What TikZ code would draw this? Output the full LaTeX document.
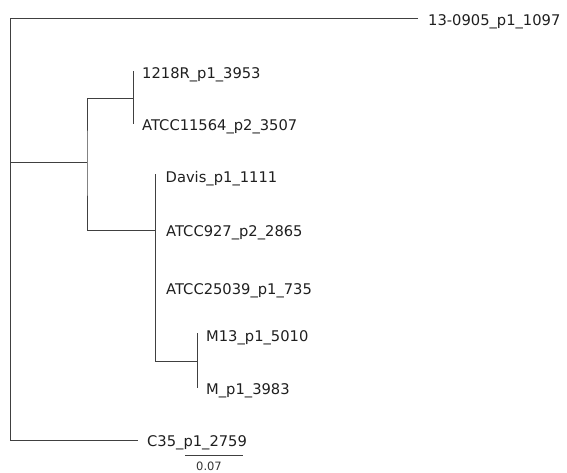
\documentclass[tikz,border=0pt]{standalone}
\usepackage{fontspec}
\setmainfont{DejaVu Sans}
\begin{document}
\begin{tikzpicture}[x=1pt,y=-1pt,
  branch/.style={draw=black!75, line width=1pt},
  leaf/.style={anchor=base west, inner sep=0pt, text=black!88,
    font=\fontsize{14.7}{16}\selectfont},
  scalelabel/.style={anchor=base, inner sep=0pt, text=black!80,
    font=\fontsize{11.5}{13}\selectfont}]
\useasboundingbox (0,0) rectangle (567,472);

% internal nodes
\coordinate (root) at (10.7,162);
\coordinate (nA) at (87,162);
\coordinate (nB) at (133,98);
\coordinate (nC) at (155,230);
\coordinate (nD) at (197,361);

% leaf tips
\coordinate (t13)    at (418,18);
\coordinate (t1218)  at (133,71);
\coordinate (t11564) at (133,124);
\coordinate (tDavis) at (155,174);
\coordinate (t927)   at (155,230);
\coordinate (t25039) at (155,286);
\coordinate (tM13)   at (197,333);
\coordinate (tM)     at (197,388);
\coordinate (tC35)   at (138,440);

% branches
\draw[branch] (t13) -| (root) |- (tC35);
\draw[branch] (root) -- (nA);
\draw[branch] (nB) -| (nA) |- (nC);
\draw[branch] (t1218) -- (t11564);
\draw[branch] (tDavis) |- (nD);
\draw[branch] (tM13) -- (tM);

% leaf labels
\node[leaf] (l13)    at (428,25)    {13-0905\_p1\_1097};
\node[leaf] (l1218)  at (142,78)    {1218R\_p1\_3953};
\node[leaf] (l11564) at (142,130)   {ATCC11564\_p2\_3507};
\node[leaf] (lDavis) at (165.5,182) {Davis\_p1\_1111};
\node[leaf] (l927)   at (166,236)   {ATCC927\_p2\_2865};
\node[leaf] (l25039) at (166,294.5) {ATCC25039\_p1\_735};
\node[leaf] (lM13)   at (206,341)   {M13\_p1\_5010};
\node[leaf] (lM)     at (206,394)   {M\_p1\_3983};
\node[leaf] (lC35)   at (147,446.5) {C35\_p1\_2759};

% scale bar
\coordinate (sb1) at (185,455);
\coordinate (sb2) at (243,455);
\draw[branch] (sb1) -- (sb2);
\node[scalelabel] (sbl) at (209,470.5) {0.07};
\end{tikzpicture}
\end{document}
